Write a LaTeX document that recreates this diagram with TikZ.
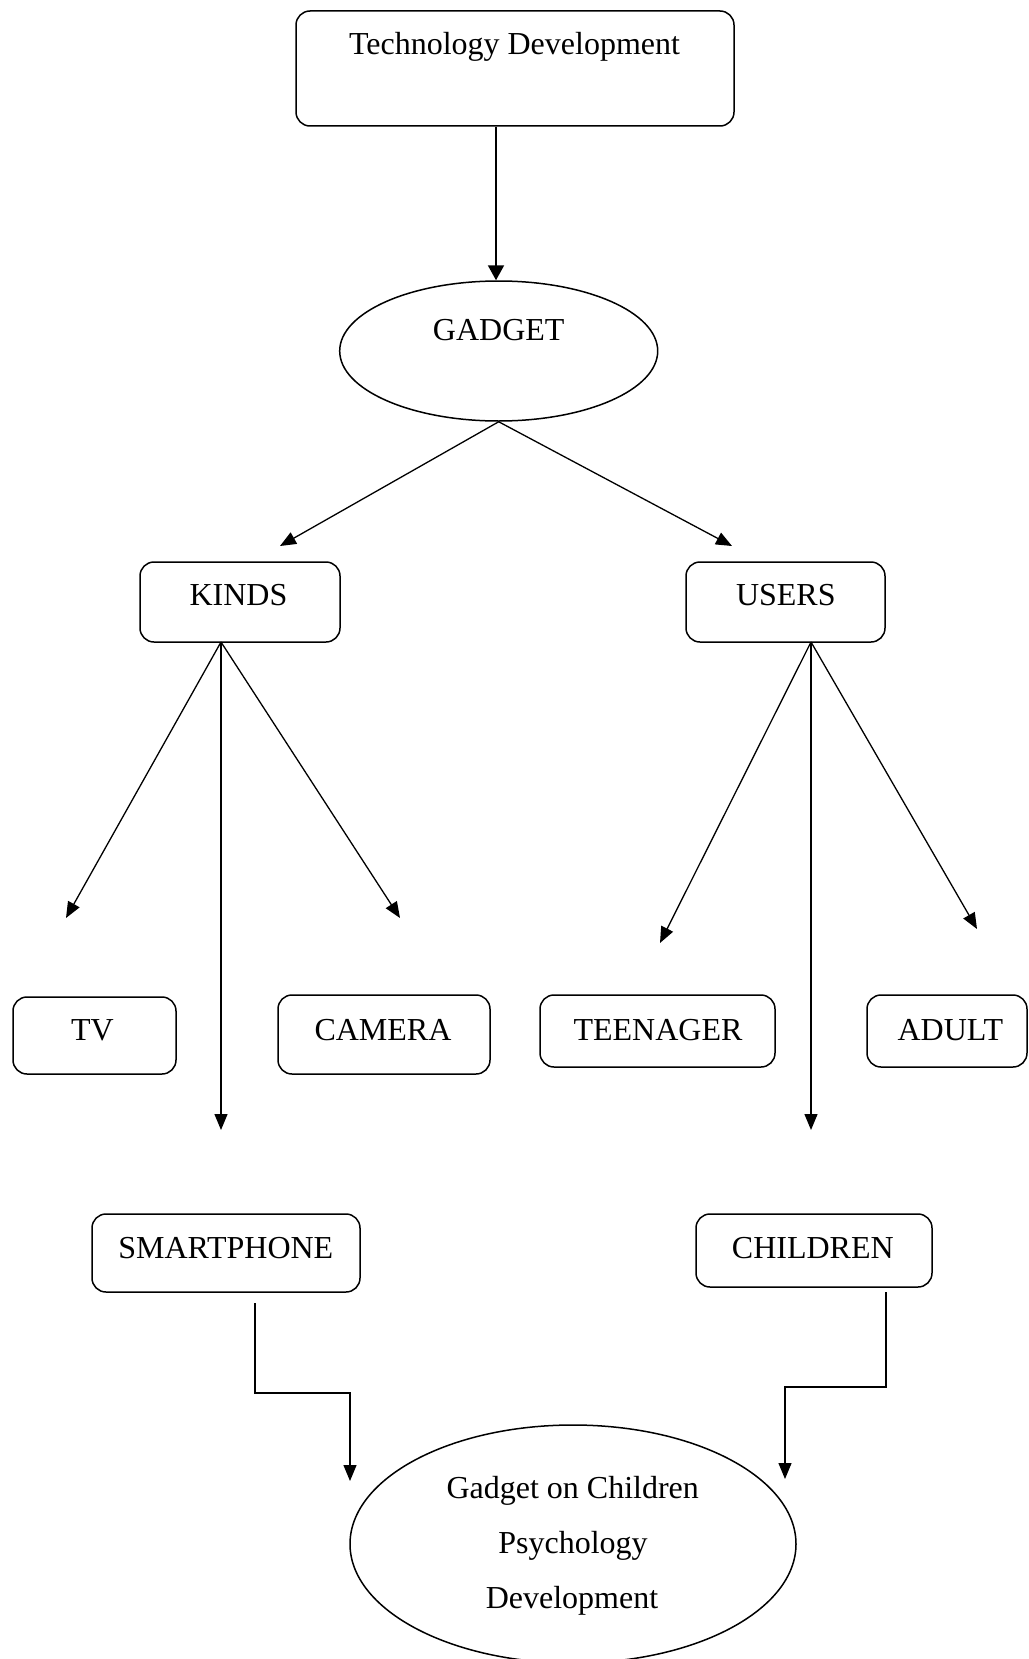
\documentclass[tikz,border=0pt]{standalone}
\usepackage{fontspec}
\setmainfont{Liberation Serif}
\usetikzlibrary{arrows.meta,shapes.geometric,fit}
\begin{document}
\begin{tikzpicture}[x=0.5pt,y=-0.5pt,
  box/.style={draw, rounded corners=7pt, line width=0.75pt, inner sep=0pt},
  oval/.style={draw, ellipse, line width=0.75pt, inner sep=0pt},
  txt/.style={anchor=base, font=\fontsize{16}{19}\selectfont, inner sep=0pt},
  conn/.style={line width=0.65pt, -{Triangle[length=8pt,width=6.5pt]}},
  elbow/.style={line width=0.65pt, -{Triangle[length=8pt,width=6.5pt]}}
]
\useasboundingbox (0,0) rectangle (1028,1659);
\clip (0,0) rectangle (1028,1659);

% boxes
\node[box, fit={(296,11) (734,126)}] (tech) {};
\node[txt] (techT) at (514.5,55) {Technology Development};

\node[oval, minimum width=159pt, minimum height=70pt] (gadget) at (498.7,351) {};
\node[txt] (gadgetT) at (498.7,340) {GADGET};

\node[box, fit={(140,562) (340,642)}] (kinds) {};
\node[txt] (kindsT) at (238.5,605) {KINDS};
\node[box, fit={(686,562) (885,642)}] (users) {};
\node[txt] (usersT) at (785.8,605) {USERS};

\node[box, fit={(13,997) (176,1074)}] (tv) {};
\node[txt] (tvT) at (92.5,1040) {TV};
\node[box, fit={(278,995) (490,1074)}] (camera) {};
\node[txt] (cameraT) at (383,1040) {CAMERA};
\node[box, fit={(540,995) (775,1067)}] (teen) {};
\node[txt] (teenT) at (658,1040) {TEENAGER};
\node[box, fit={(867,995) (1027,1067)}] (adult) {};
\node[txt] (adultT) at (950.3,1040) {ADULT};

\node[box, fit={(92,1214) (360,1292)}] (smart) {};
\node[txt] (smartT) at (225.8,1258) {SMARTPHONE};
\node[box, fit={(696,1214) (932,1287)}] (children) {};
\node[txt] (childrenT) at (812.8,1258) {CHILDREN};

\node[oval, minimum width=223pt, minimum height=119pt] (result) at (573,1544) {};
\node[txt] (r1) at (572.7,1498) {Gadget on Children};
\node[txt] (r2) at (573,1553) {Psychology};
\node[txt] (r3) at (572,1608) {Development};

% connector coordinates
\coordinate (kO) at (221,642);
\coordinate (uO) at (811,642);
\coordinate (kTip) at (280,546);
\coordinate (uTip) at (732,546);
\coordinate (tvTip) at (66,918);
\coordinate (smTip) at (221,1130);
\coordinate (caTip) at (400,918);
\coordinate (teTip) at (660,943);
\coordinate (chTip) at (811,1130);
\coordinate (adTip) at (977,929);
\coordinate (smS) at (255,1303);
\coordinate (smE) at (350,1481);
\coordinate (chS) at (886,1292);
\coordinate (chE) at (785,1479);

% connectors
\draw[line width=1pt, -{Triangle[length=7.5pt,width=8pt]}] (tech.south -| 496,0) -- (gadget.north -| 496,0);
\draw[conn] (gadget.south) -- (kTip);
\draw[conn] (gadget.south) -- (uTip);
\draw[conn] (kO) -- (tvTip);
\draw[conn] (kO) -- (smTip);
\draw[conn] (kO) -- (caTip);
\draw[conn] (uO) -- (teTip);
\draw[conn] (uO) -- (chTip);
\draw[conn] (uO) -- (adTip);
\draw[elbow] (smS) -- (255,1393) -- (350,1393) -- (smE);
\draw[elbow] (chS) -- (886,1387) -- (785,1387) -- (chE);
\end{tikzpicture}
\end{document}
